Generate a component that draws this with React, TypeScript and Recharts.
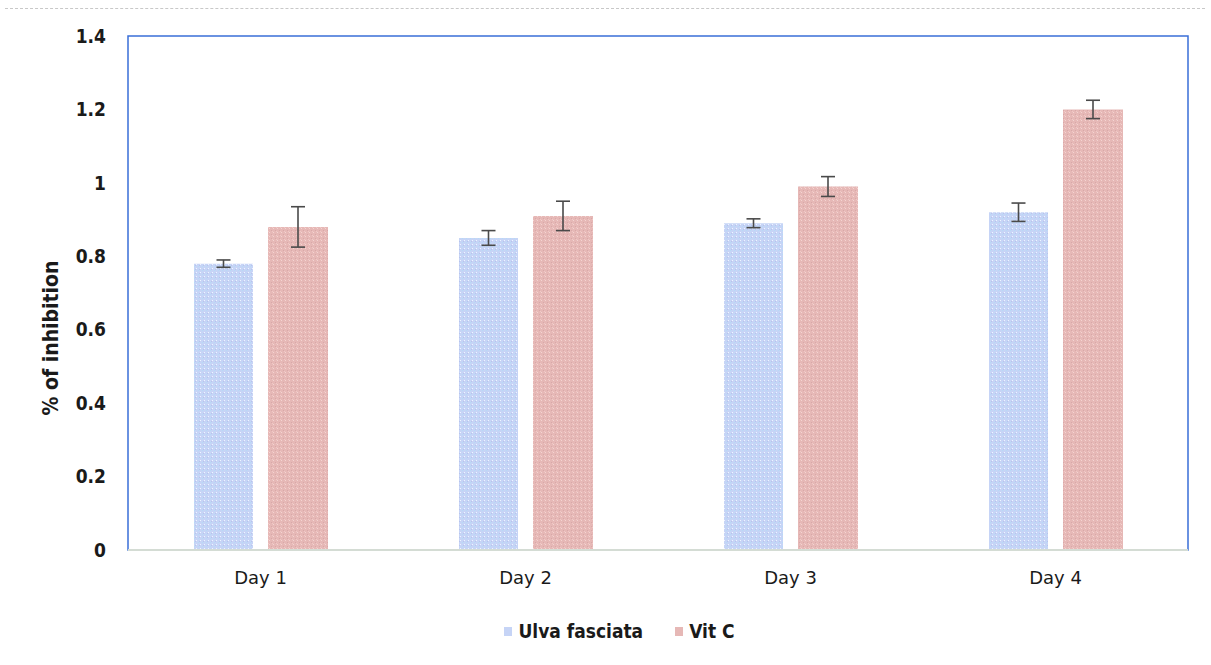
import React from 'react';
import { ComposedChart, Bar, ErrorBar, XAxis, YAxis, Legend, ReferenceArea } from 'recharts';

const days = ['Day 1', 'Day 2', 'Day 3', 'Day 4'];
const ulva = [0.78, 0.85, 0.89, 0.92];
const ulvaErr = [0.01, 0.02, 0.012, 0.025];
const vitC = [0.88, 0.91, 0.99, 1.2];
const vitCErr = [0.055, 0.04, 0.027, 0.025];
const yTicks = [0, 0.2, 0.4, 0.6, 0.8, 1, 1.2, 1.4];
const seriesNames = ['Ulva fasciata', 'Vit C'];
const yTitle = '% of inhibition';

const data = days.map((day, i) => ({
  day,
  ulva: ulva[i],
  ulvaErr: ulvaErr[i],
  vitC: vitC[i],
  vitCErr: vitCErr[i]
}));

const font = '"DejaVu Sans", Verdana, sans-serif';
const condensed = '"DejaVu Sans Condensed", "DejaVu Sans", sans-serif';
const frame = '#3a6fd8';

const legendSwatch = ['#c6d4f6', '#e6b8b6'];

const renderLegend = () => (
  <div
    style={{
      display: 'flex',
      justifyContent: 'center',
      alignItems: 'center',
      height: 22,
      paddingLeft: 28,
      fontFamily: condensed,
      fontWeight: 'bold',
      fontSize: 19,
      color: '#1a1a1a'
    }}
  >
    {seriesNames.map((name, i) => (
      <div key={name} style={{ display: 'flex', alignItems: 'center', marginRight: i === 0 ? 32 : 0 }}>
        <span style={{ display: 'inline-block', width: 8, height: 9, background: legendSwatch[i], marginRight: 6 }} />
        <span>{name}</span>
      </div>
    ))}
  </div>
);

// axis title sits a bit below the middle of the axis, like the original
const renderYTitle = (props: any) => {
  const vb = props.viewBox;
  const cx = vb.x + 22;
  const cy = vb.y + vb.height / 2 + 45;
  return (
    <text
      transform={`translate(${cx}, ${cy}) rotate(-90)`}
      textAnchor='middle'
      fill='#1a1a1a'
      fontSize={21}
      fontWeight='bold'
      fontFamily={condensed}
    >
      {yTitle}
    </text>
  );
};

const App = () => {
  return (
    <div style={{ position: 'absolute', left: 0, top: 0, width: 1211, height: 665, background: '#fff' }}>
      <div
        style={{
          position: 'absolute',
          left: 5,
          top: 8,
          width: 1200,
          borderTop: '1px dashed #c8c8c8'
        }}
      />
      <ComposedChart
        width={1211}
        height={665}
        data={data}
        margin={{ top: 36, right: 23, left: 36, bottom: 63 }}
        barCategoryGap={65}
        barGap={15}
      >
        <defs>
          <pattern id='ulvaFill' width='4' height='4' patternUnits='userSpaceOnUse'>
            <rect width='4' height='4' fill='#c6d4f6' />
            <rect x='0' y='0' width='1' height='1' fill='#eef4ff' />
            <rect x='2' y='2' width='1' height='1' fill='#b4dcf6' />
            <rect x='3' y='1' width='1' height='1' fill='#b8c4ec' />
          </pattern>
          <pattern id='vitCFill' width='4' height='4' patternUnits='userSpaceOnUse'>
            <rect width='4' height='4' fill='#e6b8b6' />
            <rect x='1' y='0' width='1' height='1' fill='#f4d4d2' />
            <rect x='3' y='2' width='1' height='1' fill='#d8a8a8' />
            <rect x='0' y='3' width='1' height='1' fill='#f0c8c6' />
          </pattern>
        </defs>
        <ReferenceArea y1={0} y2={1.4} fill='none' stroke={frame} strokeWidth={1.5} ifOverflow='visible' />
        <XAxis
          dataKey='day'
          axisLine={{ stroke: '#d4dcd4', strokeWidth: 2 }}
          tickLine={false}
          tickSize={0}
          tickMargin={21}
          tick={{ fill: '#1a1a1a', fontSize: 18, fontFamily: font }}
        />
        <YAxis
          domain={[0, 1.4]}
          ticks={yTicks}
          width={92}
          axisLine={false}
          tickLine={false}
          tickSize={0}
          tickMargin={22}
          tick={{ fill: '#1a1a1a', fontSize: 19, fontWeight: 'bold', fontFamily: condensed }}
          label={{ value: yTitle, content: renderYTitle }}
        />
        <Legend verticalAlign='bottom' content={renderLegend} wrapperStyle={{ top: 620, left: 0, width: 1211 }} />
        <Bar dataKey='ulva' name={seriesNames[0]} fill='url(#ulvaFill)' barSize={59} isAnimationActive={false}>
          <ErrorBar dataKey='ulvaErr' width={7} stroke='#4a4a4a' strokeWidth={1.6} />
        </Bar>
        <Bar dataKey='vitC' name={seriesNames[1]} fill='url(#vitCFill)' barSize={60} isAnimationActive={false}>
          <ErrorBar dataKey='vitCErr' width={7} stroke='#4a4a4a' strokeWidth={1.6} />
        </Bar>
      </ComposedChart>
    </div>
  );
};

export default App;
